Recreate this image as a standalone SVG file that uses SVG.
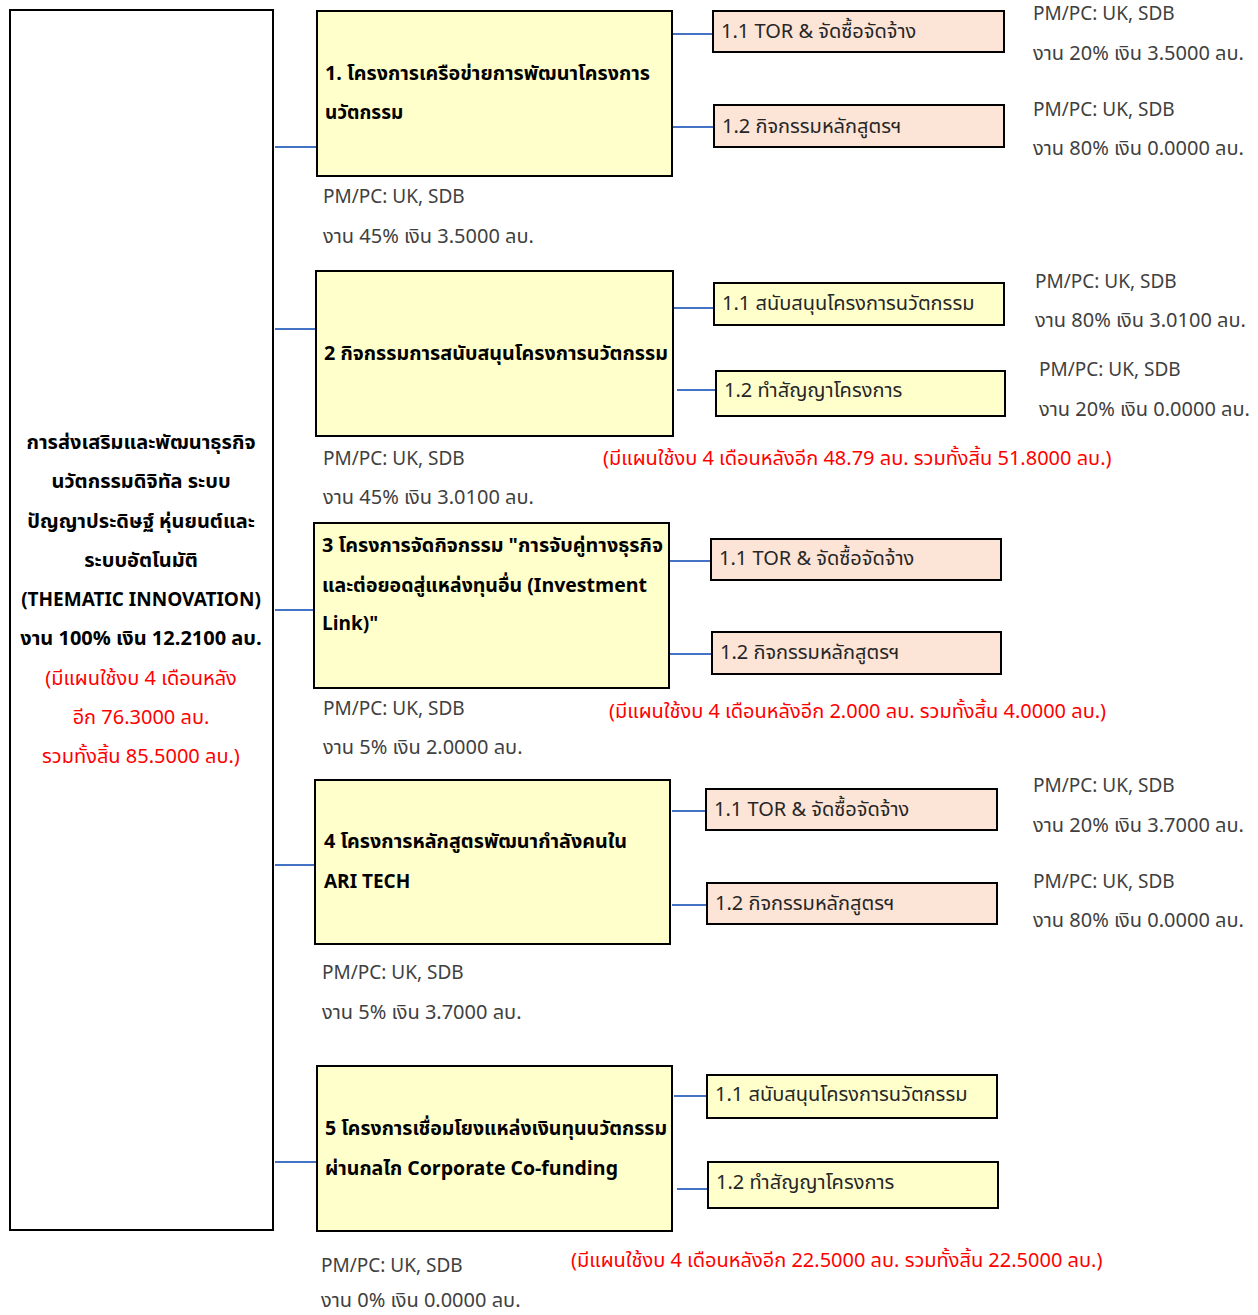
<svg xmlns="http://www.w3.org/2000/svg" width="1258" height="1315" viewBox="0 0 1258 1315">
<style>
text{font-family:"Noto Sans Thai","Noto Sans","DejaVu Sans",sans-serif;font-size:20px}
text.lat{font-size:19px}
text.mt{font-size:19px}
.main{fill:#FFFFCC;stroke:#000;stroke-width:2}
.subp{fill:#FCE4D6;stroke:#000;stroke-width:2}
.suby{fill:#FFFFCC;stroke:#000;stroke-width:2}
.root{fill:#fff;stroke:#000;stroke-width:2}
.mt{fill:#000;font-weight:bold}
.st{fill:#262626}
.gt{fill:#404040}
.rt{fill:#FF0000}
.rb{fill:#000;font-weight:bold}
.c{stroke:#4472C4;stroke-width:2;fill:none}
</style>
<g id="connectors">
<path class="c" d="M275 147H317M275 329H316M275 610H314M275 865H315M275 1162H317"/>
<path class="c" d="M672 34H713M672 127H714"/>
<path class="c" d="M674 308H714M677 390H716"/>
<path class="c" d="M670 561H711M670 654H712"/>
<path class="c" d="M672 811H706M672 905H707"/>
<path class="c" d="M674 1096H707M677 1189H708"/>
</g>
<g id="root">
<rect class="root" x="10" y="10" width="263" height="1220"/>
<g text-anchor="middle">
<text class="rb" x="141" y="449">การส่งเสริมและพัฒนาธุรกิจ</text>
<text class="rb" x="141" y="488">นวัตกรรมดิจิทัล ระบบ</text>
<text class="rb" x="141" y="528">ปัญญาประดิษฐ์ หุ่นยนต์และ</text>
<text class="rb" x="141" y="567">ระบบอัตโนมัติ</text>
<text class="rb lat" x="141" y="606">(THEMATIC INNOVATION)</text>
<text class="rb" x="141" y="645">งาน 100% เงิน 12.2100 ลบ.</text>
<text class="rt" x="141" y="685">(มีแผนใช้งบ 4 เดือนหลัง</text>
<text class="rt" x="141" y="724">อีก 76.3000 ลบ.</text>
<text class="rt" x="141" y="763">รวมทั้งสิ้น 85.5000 ลบ.)</text>
</g>
</g>
<g id="n1">
<rect class="main" x="317" y="11" width="355" height="165"/>
<text class="mt" x="325" y="80" textLength="325" lengthAdjust="spacingAndGlyphs">1. โครงการเครือข่ายการพัฒนาโครงการ</text>
<text class="mt" x="325" y="119">นวัตกรรม</text>
<text class="gt lat" x="323" y="203">PM/PC: UK, SDB</text>
<text class="gt" x="323" y="243">งาน 45% เงิน 3.5000 ลบ.</text>
</g>
<g id="n1-1">
<rect class="subp" x="713" y="11" width="291" height="41"/>
<text class="st" x="721" y="38">1.1 TOR &amp; จัดซื้อจัดจ้าง</text>
<text class="gt lat" x="1033" y="20">PM/PC: UK, SDB</text>
<text class="gt" x="1033" y="60">งาน 20% เงิน 3.5000 ลบ.</text>
</g>
<g id="n1-2">
<rect class="subp" x="714" y="105" width="290" height="42"/>
<text class="st" x="722" y="133">1.2 กิจกรรมหลักสูตรฯ</text>
<text class="gt lat" x="1033" y="116">PM/PC: UK, SDB</text>
<text class="gt" x="1033" y="155">งาน 80% เงิน 0.0000 ลบ.</text>
</g>
<g id="n2">
<rect class="main" x="316" y="271" width="357" height="165"/>
<text class="mt" x="324" y="360" textLength="344" lengthAdjust="spacingAndGlyphs">2 กิจกรรมการสนับสนุนโครงการนวัตกรรม</text>
<text class="gt lat" x="323" y="465">PM/PC: UK, SDB</text>
<text class="gt" x="323" y="504">งาน 45% เงิน 3.0100 ลบ.</text>
<text class="rt" x="603" y="465">(มีแผนใช้งบ 4 เดือนหลังอีก 48.79 ลบ. รวมทั้งสิ้น 51.8000 ลบ.)</text>
</g>
<g id="n2-1">
<rect class="suby" x="714" y="283" width="290" height="42"/>
<text class="st" x="722" y="310">1.1 สนับสนุนโครงการนวัตกรรม</text>
<text class="gt lat" x="1035" y="288">PM/PC: UK, SDB</text>
<text class="gt" x="1035" y="327">งาน 80% เงิน 3.0100  ลบ.</text>
</g>
<g id="n2-2">
<rect class="suby" x="716" y="371" width="289" height="45"/>
<text class="st" x="724" y="397">1.2 ทำสัญญาโครงการ</text>
<text class="gt lat" x="1039" y="376">PM/PC: UK, SDB</text>
<text class="gt" x="1039" y="416">งาน 20% เงิน 0.0000 ลบ.</text>
</g>
<g id="n3">
<rect class="main" x="314" y="523" width="355" height="165"/>
<text class="mt" x="322" y="552" textLength="341" lengthAdjust="spacingAndGlyphs">3 โครงการจัดกิจกรรม "การจับคู่ทางธุรกิจ</text>
<text class="mt" x="322" y="592" textLength="325" lengthAdjust="spacingAndGlyphs">และต่อยอดสู่แหล่งทุนอื่น (Investment</text>
<text class="mt lat" x="322" y="630">Link)"</text>
<text class="gt lat" x="323" y="715">PM/PC: UK, SDB</text>
<text class="gt" x="323" y="754">งาน 5% เงิน 2.0000 ลบ.</text>
<text class="rt" x="609" y="718">(มีแผนใช้งบ 4 เดือนหลังอีก 2.000 ลบ. รวมทั้งสิ้น 4.0000 ลบ.)</text>
</g>
<g id="n3-1">
<rect class="subp" x="711" y="539" width="290" height="41"/>
<text class="st" x="719" y="565">1.1 TOR &amp; จัดซื้อจัดจ้าง</text>
</g>
<g id="n3-2">
<rect class="subp" x="712" y="632" width="289" height="42"/>
<text class="st" x="720" y="659">1.2 กิจกรรมหลักสูตรฯ</text>
</g>
<g id="n4">
<rect class="main" x="315" y="780" width="355" height="164"/>
<text class="mt" x="324" y="848" textLength="303" lengthAdjust="spacingAndGlyphs">4 โครงการหลักสูตรพัฒนากำลังคนใน</text>
<text class="mt lat" x="324" y="888">ARI TECH</text>
<text class="gt lat" x="322" y="979">PM/PC: UK, SDB</text>
<text class="gt" x="322" y="1019">งาน 5% เงิน 3.7000 ลบ.</text>
</g>
<g id="n4-1">
<rect class="subp" x="706" y="789" width="291" height="41"/>
<text class="st" x="714" y="816">1.1 TOR &amp; จัดซื้อจัดจ้าง</text>
<text class="gt lat" x="1033" y="792">PM/PC: UK, SDB</text>
<text class="gt" x="1033" y="832">งาน 20% เงิน 3.7000 ลบ.</text>
</g>
<g id="n4-2">
<rect class="subp" x="707" y="883" width="290" height="41"/>
<text class="st" x="715" y="910">1.2 กิจกรรมหลักสูตรฯ</text>
<text class="gt lat" x="1033" y="888">PM/PC: UK, SDB</text>
<text class="gt" x="1033" y="927">งาน 80% เงิน 0.0000 ลบ.</text>
</g>
<g id="n5">
<rect class="main" x="317" y="1066" width="355" height="165"/>
<text class="mt" x="325" y="1135" textLength="342" lengthAdjust="spacingAndGlyphs">5 โครงการเชื่อมโยงแหล่งเงินทุนนวัตกรรม</text>
<text class="mt" x="325" y="1175" textLength="293" lengthAdjust="spacingAndGlyphs">ผ่านกลไก Corporate Co-funding</text>
<text class="gt lat" x="321" y="1272">PM/PC: UK, SDB</text>
<text class="gt" x="321" y="1307">งาน 0% เงิน 0.0000 ลบ.</text>
<text class="rt" x="571" y="1267">(มีแผนใช้งบ 4 เดือนหลังอีก 22.5000 ลบ. รวมทั้งสิ้น 22.5000 ลบ.)</text>
</g>
<g id="n5-1">
<rect class="suby" x="707" y="1075" width="290" height="43"/>
<text class="st" x="715" y="1101">1.1 สนับสนุนโครงการนวัตกรรม</text>
</g>
<g id="n5-2">
<rect class="suby" x="708" y="1162" width="290" height="46"/>
<text class="st" x="716" y="1189">1.2 ทำสัญญาโครงการ</text>
</g>
</svg>
